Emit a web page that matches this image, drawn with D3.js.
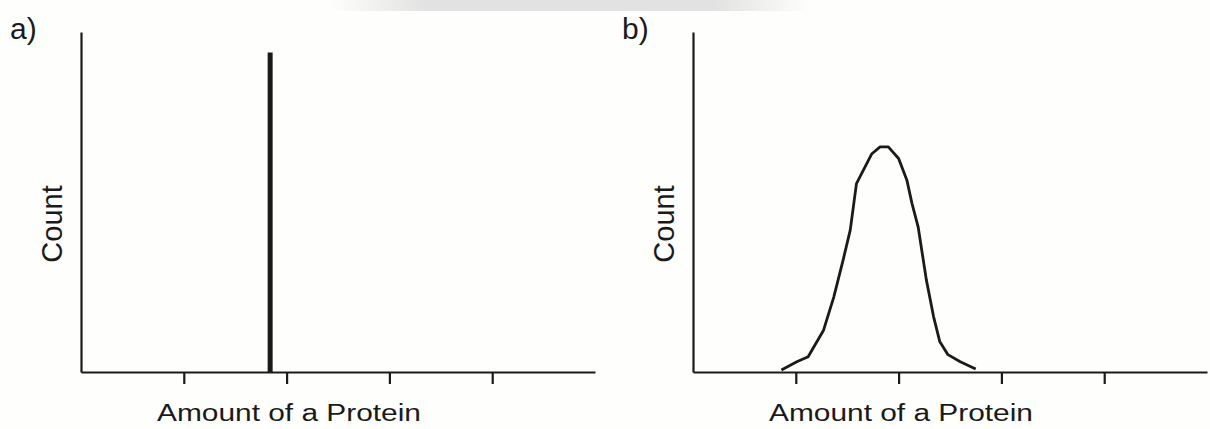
<!DOCTYPE html>
<meta charset="utf-8">
<script src="https://d3js.org/d3.v7.min.js"></script>
<style>
  body { margin: 0; background: #fefefc; }
  text { font-family: "Liberation Sans", Arial, sans-serif; fill: #1a1a1a; }
</style>
<body>
<div id="chart"></div>
<script>
// panel labels and axis titles
var panelLabels = ["a)", "b)"];
var xTitle = "Amount of a Protein";
var yTitle = "Count";
var tickValues = [1, 2, 3, 4];

// panel a: every cell has the same amount -> one spike
var spikeX = [1.84];
var spikeY = [0.94];

// panel b: distribution of amounts
var curveX = [0.86, 1.01, 1.12, 1.27, 1.37, 1.46, 1.53, 1.59, 1.74, 1.82, 1.90, 2.00, 2.08, 2.13, 2.19, 2.27, 2.34, 2.40, 2.48, 2.60, 2.75];
var curveY = [0.006, 0.030, 0.045, 0.123, 0.221, 0.329, 0.418, 0.554, 0.642, 0.662, 0.662, 0.628, 0.565, 0.496, 0.427, 0.271, 0.163, 0.090, 0.051, 0.030, 0.009];

(function() {
  var W = 1210, H = 429;
  var svg = d3.select("#chart").append("svg")
    .attr("width", W).attr("height", H);

  // faint watermark band along the top edge
  var grad = svg.append("defs").append("linearGradient").attr("id", "band");
  grad.append("stop").attr("offset", "0").attr("stop-color", "#e2e2e2").attr("stop-opacity", 0);
  grad.append("stop").attr("offset", "0.2").attr("stop-color", "#e2e2e2").attr("stop-opacity", 1);
  grad.append("stop").attr("offset", "0.8").attr("stop-color", "#e2e2e2").attr("stop-opacity", 1);
  grad.append("stop").attr("offset", "1").attr("stop-color", "#e2e2e2").attr("stop-opacity", 0);
  svg.append("rect").attr("x", 330).attr("y", 0).attr("width", 480).attr("height", 11)
    .attr("fill", "url(#band)");

  var panels = [{left: 81}, {left: 693}];
  var top = 32, bottom = 372, axisLen = 514;

  panels.forEach(function(p, i) {
    var x = d3.scaleLinear().domain([0, 5]).range([p.left, p.left + axisLen]);
    var y = d3.scaleLinear().domain([0, 1]).range([bottom, top]);
    var g = svg.append("g");

    g.append("g")
      .attr("transform", "translate(0," + bottom + ")")
      .call(d3.axisBottom(x).tickValues(tickValues).tickSize(12).tickSizeOuter(0).tickFormat(""))
      .call(function(a) {
        a.selectAll("path, line").attr("stroke", "#1a1a1a").attr("stroke-width", 2.2);
      });

    g.append("g")
      .attr("transform", "translate(" + p.left + ",0)")
      .call(d3.axisLeft(y).tickValues([]).tickSizeOuter(0))
      .call(function(a) {
        a.select("path").attr("stroke", "#1a1a1a").attr("stroke-width", 2.2);
      });

    g.append("text")
      .attr("x", p.left - 71)
      .attr("y", 39)
      .style("font-size", "30px")
      .text(panelLabels[i]);

    g.append("text")
      .attr("transform", "translate(" + (p.left - 19) + "," + ((top + bottom) / 2 + 22) + ") rotate(-90)")
      .attr("text-anchor", "middle")
      .style("font-size", "29px")
      .text(yTitle);

    g.append("text")
      .attr("x", p.left + 76)
      .attr("y", 421)
      .attr("textLength", 264)
      .attr("lengthAdjust", "spacingAndGlyphs")
      .style("font-size", "23px")
      .text(xTitle);

    if (i === 0) {
      g.selectAll(".spike").data(spikeX).enter().append("line")
        .attr("x1", function(d) { return x(d); })
        .attr("x2", function(d) { return x(d); })
        .attr("y1", y(0))
        .attr("y2", function(d, j) { return y(spikeY[j]); })
        .attr("stroke", "#1a1a1a")
        .attr("stroke-width", 5);
    } else {
      var pts = curveX.map(function(d, j) { return [d, curveY[j]]; });
      g.append("path")
        .datum(pts)
        .attr("fill", "none")
        .attr("stroke", "#1a1a1a")
        .attr("stroke-width", 2.8)
        .attr("stroke-linejoin", "round")
        .attr("d", d3.line()
          .x(function(d) { return x(d[0]); })
          .y(function(d) { return y(d[1]); }));
    }
  });
})();
</script>
</body>
